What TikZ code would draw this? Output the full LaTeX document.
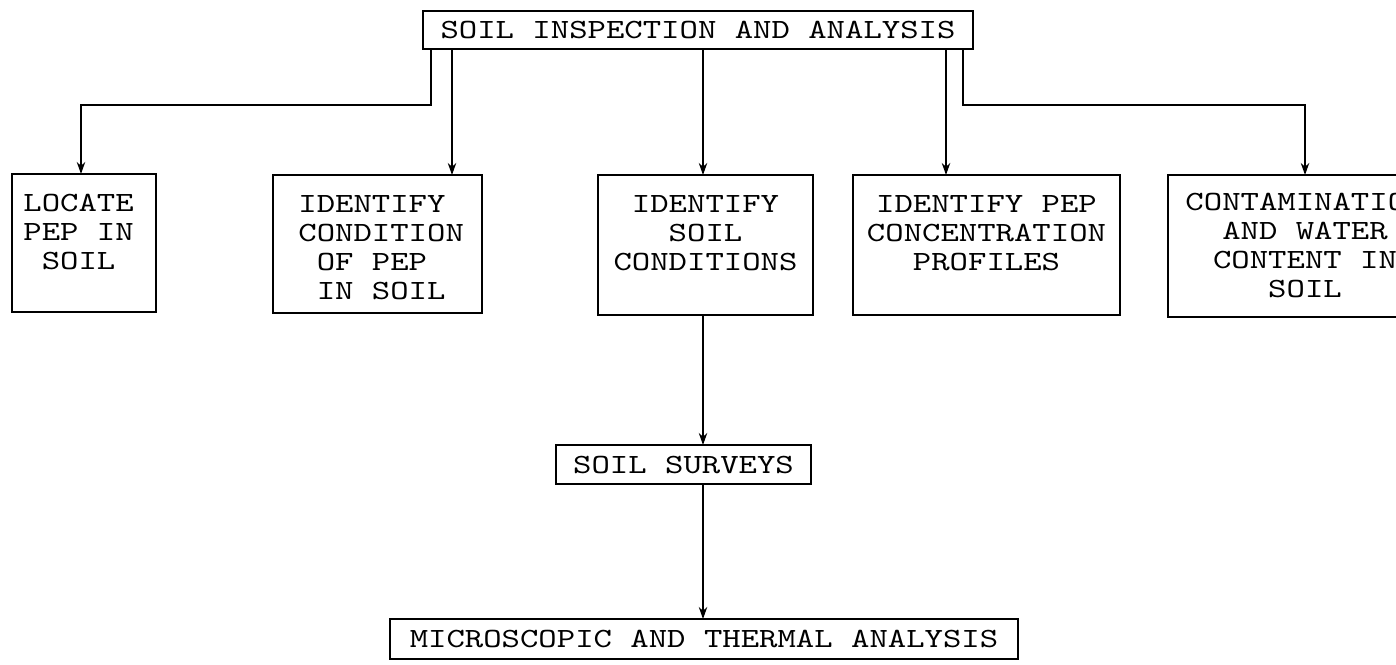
\documentclass[tikz,border=0pt]{standalone}
\usepackage{fontspec}
% typewriter face, widened a little
\newfontfamily\tw{lmmono10-regular.otf}[FakeStretch=1.26]
\usetikzlibrary{arrows.meta}

\begin{document}
\begin{tikzpicture}[x=0.5pt,y=-0.5pt,
  box/.style={draw, line width=1pt, inner sep=0pt, outer sep=0pt,
    font=\tw\fontsize{13.9pt}{14.5pt}\selectfont},
  txt/.style={font=\tw\fontsize{13.9pt}{14.5pt}\selectfont, inner sep=0pt},
  arr/.style={line width=1pt, -{Stealth[length=6pt,width=4.2pt]}}
]
\useasboundingbox (0,0) rectangle (1396,664);
\clip (0,0) rectangle (1396,664);

% boxes
\node[box, minimum width=275pt, minimum height=19pt] (top) at (698,30) {SOIL INSPECTION AND ANALYSIS};
\node[box, minimum width=72pt, minimum height=69pt] (locate) at (84,243) {};
\node[box, minimum width=104.5pt, minimum height=69pt] (cond) at (377.5,244) {};
\node[box, minimum width=107.5pt, minimum height=70pt] (soilc) at (705.5,245) {};
\node[box, minimum width=133.5pt, minimum height=70pt] (pep) at (986.5,245) {};
\node[box, minimum width=137pt, minimum height=71pt] (cont) at (1305,246) {};
\node[box, minimum width=127.5pt, minimum height=19.5pt] (surv) at (683.5,464.5) {SOIL SURVEYS};
\node[box, minimum width=314pt, minimum height=20pt] (micro) at (704,639) {MICROSCOPIC AND THERMAL ANALYSIS};

% box texts
\node[txt, align=left, anchor=north west] (locatet) at ([xshift=5.5pt,yshift=-10pt]locate.north west)
  {LOCATE\\PEP IN\\\hphantom{X}SOIL};
\node[txt, align=left, anchor=north west] (condt) at ([xshift=12.5pt,yshift=-10pt]cond.north west)
  {IDENTIFY\\CONDITION\\\hphantom{X}OF PEP\\\hphantom{X}IN SOIL};
\node[txt, align=center, anchor=north] (soilct) at ([yshift=-10pt]soilc.north)
  {IDENTIFY\\SOIL\\CONDITIONS};
\node[txt, align=center, anchor=north] (pept) at ([yshift=-10pt]pep.north)
  {IDENTIFY PEP\\CONCENTRATION\\PROFILES};
\node[txt, align=center, anchor=north] (contt) at ([yshift=-9pt]cont.north)
  {CONTAMINATION\\AND WATER\\CONTENT IN\\SOIL};

% branch positions along the top box
\coordinate (ta) at (431,0);
\coordinate (tb) at (452,0);
\coordinate (tc) at (703,0);
\coordinate (td) at (946,0);
\coordinate (te) at (963,0);
\coordinate (hy) at (0,105);

% connectors
\draw[arr] (top.south -| ta) -- (ta |- hy) -| ([xshift=-1.5pt]locate.north);
\draw[arr] (top.south -| tb) -- (tb |- cond.north);
\draw[arr] (top.south -| tc) -- (tc |- soilc.north);
\draw[arr] (top.south -| td) -- (td |- pep.north);
\draw[arr] (top.south -| te) -- (te |- hy) -| (cont.north);
\draw[arr] (soilc.south -| tc) -- (tc |- surv.north);
\draw[arr] (surv.south -| tc) -- (tc |- micro.north);
\end{tikzpicture}
\end{document}
